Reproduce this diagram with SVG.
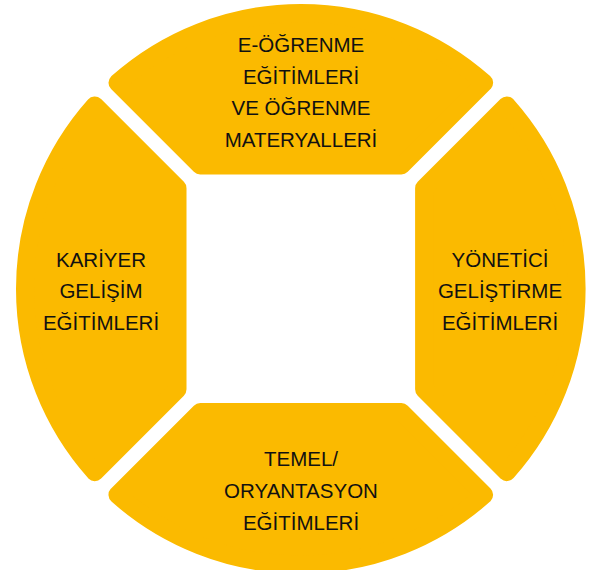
<svg xmlns="http://www.w3.org/2000/svg" width="606" height="570" viewBox="0 0 606 570">
<style>
.seg{fill:#FBBA00;stroke:#FBBA00;stroke-width:18;stroke-linejoin:round}
.lbl{font-family:"Liberation Sans",Arial,sans-serif;font-size:20.5px;fill:#111;text-anchor:middle}
</style>
<rect width="606" height="570" fill="#fff"/>
<g id="top">
<path class="seg" d="M200.23,165.5 L117.47,82.75 A275.8,275.8 0 0 1 484.13,82.75 L401.37,165.5 Z"/>
<text class="lbl"><tspan x="301" y="52.3">E-ÖĞRENME</tspan><tspan x="301" y="83.8">EĞİTİMLERİ</tspan><tspan x="301" y="115.3">VE ÖĞRENME</tspan><tspan x="301" y="147">MATERYALLERİ</tspan></text>
</g>
<g id="left">
<path class="seg" d="M177.5,389.37 L94.75,472.13 A275.8,275.8 0 0 1 94.75,105.47 L177.5,188.23 Z"/>
<text class="lbl"><tspan x="101" y="266.7">KARİYER</tspan><tspan x="101" y="298.3">GELİŞİM</tspan><tspan x="101" y="330">EĞİTİMLERİ</tspan></text>
</g>
<g id="right">
<path class="seg" d="M424.1,188.23 L506.85,105.47 A275.8,275.8 0 0 1 506.85,472.13 L424.1,389.37 Z"/>
<text class="lbl"><tspan x="500" y="266.7">YÖNETİCİ</tspan><tspan x="500" y="298.3">GELİŞTİRME</tspan><tspan x="500" y="330">EĞİTİMLERİ</tspan></text>
</g>
<g id="bottom">
<path class="seg" d="M401.37,412.1 L484.13,494.85 A275.8,275.8 0 0 1 117.47,494.85 L200.23,412.1 Z"/>
<text class="lbl"><tspan x="301" y="466">TEMEL/</tspan><tspan x="301" y="498.3">ORYANTASYON</tspan><tspan x="301" y="530">EĞİTİMLERİ</tspan></text>
</g>
<g id="connectors"/>
</svg>
